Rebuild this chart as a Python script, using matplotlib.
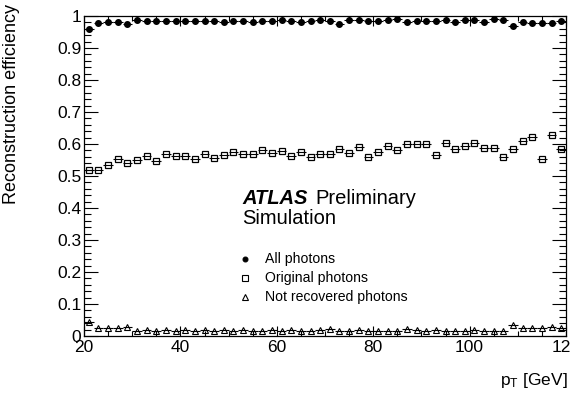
import numpy as np
import matplotlib
matplotlib.use('Agg')
import matplotlib.pyplot as plt
from matplotlib.ticker import MultipleLocator, FuncFormatter

plt.rcParams['font.family'] = ['Liberation Sans', 'DejaVu Sans']
plt.rcParams['mathtext.default'] = 'regular'

# pT bin centres (2 GeV bins)
pt = np.arange(21, 120, 2)

all_photons = [0.960, 0.979, 0.980, 0.980, 0.976, 0.986, 0.983, 0.984, 0.983, 0.985,
               0.983, 0.985, 0.985, 0.984, 0.982, 0.985, 0.985, 0.982, 0.985, 0.983,
               0.988, 0.985, 0.982, 0.983, 0.988, 0.985, 0.976, 0.986, 0.988, 0.983,
               0.984, 0.988, 0.992, 0.981, 0.985, 0.985, 0.983, 0.986, 0.982, 0.986,
               0.989, 0.982, 0.992, 0.986, 0.968, 0.981, 0.979, 0.979, 0.979, 0.983]

original_photons = [0.519, 0.519, 0.533, 0.552, 0.542, 0.550, 0.562, 0.546, 0.568, 0.563,
                    0.562, 0.553, 0.570, 0.557, 0.566, 0.576, 0.569, 0.569, 0.581, 0.573,
                    0.578, 0.561, 0.576, 0.559, 0.568, 0.569, 0.583, 0.571, 0.592, 0.560,
                    0.576, 0.594, 0.581, 0.600, 0.600, 0.600, 0.566, 0.604, 0.584, 0.594,
                    0.604, 0.589, 0.589, 0.558, 0.583, 0.609, 0.623, 0.552, 0.628, 0.583]

not_recovered = [0.045, 0.025, 0.026, 0.025, 0.027, 0.016, 0.018, 0.016, 0.018, 0.016,
                 0.018, 0.016, 0.018, 0.016, 0.018, 0.016, 0.018, 0.017, 0.016, 0.018,
                 0.016, 0.019, 0.017, 0.016, 0.018, 0.022, 0.017, 0.016, 0.018, 0.016,
                 0.017, 0.016, 0.015, 0.021, 0.018, 0.017, 0.018, 0.016, 0.017, 0.016,
                 0.018, 0.016, 0.015, 0.017, 0.035, 0.025, 0.026, 0.024, 0.028, 0.026]

W, H = 571, 396
fig = plt.figure(figsize=(W / 100, H / 100), dpi=100)
ax = fig.add_axes([84 / W, 60 / H, (566 - 84) / W, (336 - 16) / H])

ekw = dict(xerr=1.0, ls='none', ecolor='black', elinewidth=0.8, capsize=0)
ax.errorbar(pt, all_photons, marker='o', ms=4, mfc='black', mec='black', **ekw)
ax.errorbar(pt, original_photons, marker='s', ms=4.8, mfc='none', mec='black', mew=0.9, **ekw)
ax.errorbar(pt, not_recovered, marker='^', ms=4.5, mfc='none', mec='black', mew=0.8, **ekw)

ax.set_xlim(20, 120)
ax.set_ylim(0, 1)
ax.xaxis.set_major_locator(MultipleLocator(20))
ax.xaxis.set_minor_locator(MultipleLocator(5))
ax.yaxis.set_major_locator(MultipleLocator(0.1))
ax.yaxis.set_minor_locator(MultipleLocator(0.02))
ax.yaxis.set_major_formatter(FuncFormatter(lambda v, p: '%g' % round(v, 2)))
ax.tick_params(which='both', direction='in', top=True, right=True, labelsize=12.5, width=0.8)
ax.tick_params(axis='x', which='major', length=7, pad=3)
ax.tick_params(axis='x', which='minor', length=3.5)
ax.tick_params(axis='y', which='major', length=10, pad=2)
ax.tick_params(axis='y', which='minor', length=5)
for s in ax.spines.values():
    s.set_linewidth(0.9)

fig.text(12 / W, 1 - 4 / H, 'Reconstruction efficiency', rotation=90,
         ha='center', va='top', fontsize=13)
fig.text(568 / W, 1 - 381 / H, 'p$_T$ [GeV]', ha='right', va='center', fontsize=12.5)

fig.text(242 / W, 1 - 199 / H, 'ATLAS', fontsize=14.5, fontweight='bold',
         style='italic', va='center')
fig.text(315 / W, 1 - 199 / H, 'Preliminary', fontsize=14.5, va='center')
fig.text(242 / W, 1 - 219 / H, 'Simulation', fontsize=14.5, va='center')

# legend entries
labels = ['All photons', 'Original photons', 'Not recovered photons']
marks = [dict(marker='o', ms=3.5, mfc='black'),
         dict(marker='s', ms=4, mfc='none'),
         dict(marker='^', ms=4, mfc='none')]
for i, (lab, mk) in enumerate(zip(labels, marks)):
    yy = 1 - (258.5 + 19.3 * i) / H
    fig.add_artist(plt.Line2D([245 / W], [yy], ls='none', mec='black',
                              mew=0.8, transform=fig.transFigure, **mk))
    fig.text(265 / W, yy, lab, fontsize=10.1, va='center')

fig.savefig('out.png', dpi=100)
